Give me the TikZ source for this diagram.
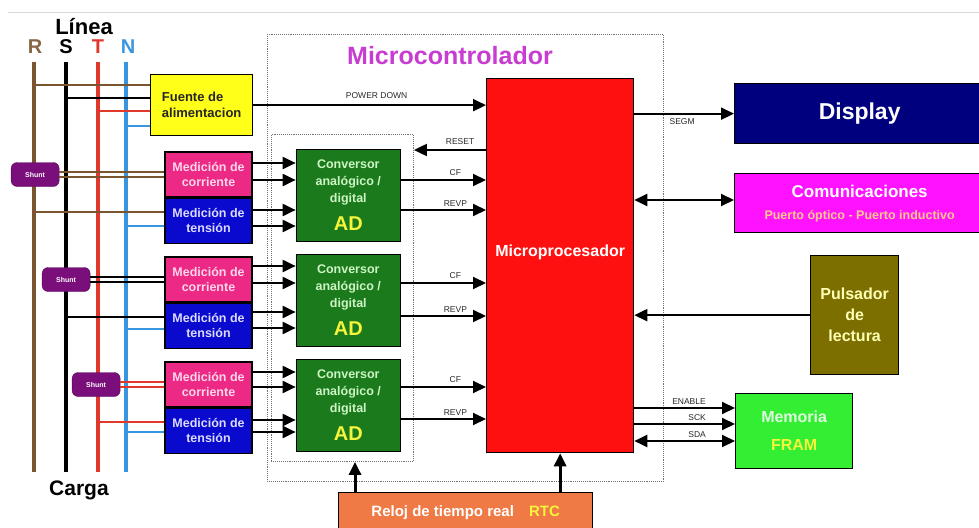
\documentclass[tikz,border=0pt]{standalone}
\usepackage{fontspec}
\setmainfont{Liberation Sans}
\usetikzlibrary{arrows.meta,positioning}

\definecolor{cR}{HTML}{7A5530}
\definecolor{cT}{HTML}{E0392B}
\definecolor{cN}{HTML}{3A95E0}
\definecolor{cFuente}{HTML}{FFFF1A}
\definecolor{cCorr}{HTML}{EC2A86}
\definecolor{cCorrTxt}{HTML}{FFD6EA}
\definecolor{cTens}{HTML}{0A0ACF}
\definecolor{cTensTxt}{HTML}{DCDCFF}
\definecolor{cConv}{HTML}{1B7A1B}
\definecolor{cConvTxt}{HTML}{CDF5C5}
\definecolor{cYel}{HTML}{F5F53C}
\definecolor{cMicro}{HTML}{FF1010}
\definecolor{cDisp}{HTML}{00007F}
\definecolor{cComm}{HTML}{FF12FF}
\definecolor{cCommTxt}{HTML}{FFC98A}
\definecolor{cPuls}{HTML}{7D6E00}
\definecolor{cPulsTxt}{HTML}{FFFFB4}
\definecolor{cMem}{HTML}{33EE33}
\definecolor{cMemTxt}{HTML}{DDFFDD}
\definecolor{cRtc}{HTML}{EF7A45}
\definecolor{cShunt}{HTML}{7A0E7A}
\definecolor{cMctl}{HTML}{C83CD2}

\newcommand{\fsz}[2]{\fontsize{#1}{#2}\selectfont}

\begin{document}
\begin{tikzpicture}[x=1pt,y=-1pt,
    blk/.style={draw=black, line width=1.3pt, inner sep=0pt, align=center, font=\bfseries},
    meas/.style={blk, minimum width=87pt, minimum height=45pt, font=\fsz{12.5}{15}\bfseries},
    adbox/.style={blk, fill=cConv, text=cConvTxt, minimum width=104pt, minimum height=92pt, font=\fsz{12.5}{17}\bfseries},
    shuntbox/.style={draw=cShunt!70!black, fill=cShunt, rounded corners=6pt, text=white, minimum width=48pt, minimum height=24pt, inner sep=0pt, font=\fsz{7}{8}\bfseries},
    dots/.style={draw=black!55, densely dotted, line width=0.9pt, inner sep=0pt},
    ph/.style={line width=3.5pt},
    br/.style={line width=2.2pt},
    sig/.style={line width=2pt, -{Triangle[length=13pt,width=12pt]}},
    bsig/.style={line width=2pt, {Triangle[length=13pt,width=12pt]}-{Triangle[length=13pt,width=12pt]}},
    lbl/.style={font=\fsz{8.5}{9}, text=black!85, inner sep=1pt},
    phl/.style={font=\fsz{20}{20}\bfseries}
  ]
    \useasboundingbox (0,0) rectangle (979,527);
    \draw[black!15, line width=0.8pt] (8,12) -- (979,12);

    % lines R S T N
    \node[font=\fsz{22}{22}\bfseries] (linea) at (84,27) {Línea};
    \node[phl, text=cR!90!white] (lR) at (35,47) {R};
    \node[phl] (lS) at (66,47) {S};
    \node[phl, text=cT] (lT) at (98,47) {T};
    \node[phl, text=cN] (lN) at (128,47) {N};
    \node[font=\fsz{21}{21}\bfseries] (carga) at (79,490) {Carga};

    \coordinate (R0) at (34,62);  \coordinate (R1) at (34,472);
    \coordinate (S0) at (66,62);  \coordinate (S1) at (66,472);
    \coordinate (T0) at (98,62);  \coordinate (T1) at (98,472);
    \coordinate (N0) at (126,62); \coordinate (N1) at (126,472);
    \draw[ph,cR] (R0) -- (R1);
    \draw[ph,black] (S0) -- (S1);
    \draw[ph,cT] (T0) -- (T1);
    \draw[ph,cN] (N0) -- (N1);

    % microcontroller frame
    \node[dots, anchor=north west, minimum width=396pt, minimum height=447pt] (mctl) at (267,34) {};
    \node[font=\fsz{25}{25}\bfseries, text=cMctl] (mctltxt) at (450,56) {Microcontrolador};
    \node[dots, anchor=north west, minimum width=142pt, minimum height=327pt] (adgrp) at (271,134) {};

    % power supply
    \node[blk, fill=cFuente, anchor=north west, minimum width=102pt, minimum height=61pt,
          font=\fsz{13}{16}\bfseries, align=left, text=black!85] (fuente) at (150,74) {Fuente de\\alimentacion};
    \draw[br,cR] (fuente.west |- 0,85) -- (R0 |- 0,85);
    \draw[br,black] (fuente.west |- 0,98) -- (S0 |- 0,98);
    \draw[br,cT] (fuente.west |- 0,111) -- (T0 |- 0,111);
    \draw[br,cN] (fuente.west |- 0,126) -- (N0 |- 0,126);

    % measurement blocks
    \node[meas, fill=cCorr, text=cCorrTxt] (ic1) at (208.5,174.5) {Medición de\\corriente};
    \node[meas, fill=cTens, text=cTensTxt] (vt1) [below=0pt, at=(ic1.south)] {Medición de\\tensión};
    \node[meas, fill=cCorr, text=cCorrTxt] (ic2) at (208.5,279.5) {Medición de\\corriente};
    \node[meas, fill=cTens, text=cTensTxt] (vt2) [below=0pt, at=(ic2.south)] {Medición de\\tensión};
    \node[meas, fill=cCorr, text=cCorrTxt] (ic3) at (208.5,384.5) {Medición de\\corriente};
    \node[meas, fill=cTens, text=cTensTxt] (vt3) [below=0pt, at=(ic3.south)] {Medición de\\tensión};

    \node[shuntbox] (sh1) [left=105pt, at=(ic1.west)] {Shunt};
    \node[shuntbox] (sh2) [left=74pt, at=(ic2.west)] {Shunt};
    \node[shuntbox] (sh3) [left=44pt, at=(ic3.west)] {Shunt};

    \draw[line width=2pt,cR] ([yshift=2.2pt]sh1.east) -- ([yshift=2.2pt]ic1.west);
    \draw[line width=2pt,cR] ([yshift=-2.2pt]sh1.east) -- ([yshift=-2.2pt]ic1.west);
    \draw[br,cR] (vt1.west |- 0,212) -- (R0 |- 0,212);
    \draw[br,cN] (vt1.west |- 0,226) -- (N0 |- 0,226);
    \draw[line width=2pt,black] ([yshift=2.2pt]sh2.east) -- ([yshift=2.2pt]ic2.west);
    \draw[line width=2pt,black] ([yshift=-2.2pt]sh2.east) -- ([yshift=-2.2pt]ic2.west);
    \draw[br,black] (vt2.west |- 0,317) -- (S0 |- 0,317);
    \draw[br,cN] (vt2.west |- 0,329) -- (N0 |- 0,329);
    \draw[line width=2pt,cT] ([yshift=2.2pt]sh3.east) -- ([yshift=2.2pt]ic3.west);
    \draw[line width=2pt,cT] ([yshift=-2.2pt]sh3.east) -- ([yshift=-2.2pt]ic3.west);
    \draw[br,cT] (vt3.west |- 0,422) -- (T0 |- 0,422);
    \draw[br,cN] (vt3.west |- 0,432) -- (N0 |- 0,432);

    % AD converters
    \node[adbox] (ad1) [right=43pt, at=(ic1.south east), yshift=2.5pt] {Conversor\\analógico /\\digital\\[11pt]{\fsz{20}{20}\color{cYel}AD}};
    \node[adbox] (ad2) [right=43pt, at=(ic2.south east), yshift=2.5pt] {Conversor\\analógico /\\digital\\[11pt]{\fsz{20}{20}\color{cYel}AD}};
    \node[adbox] (ad3) [right=43pt, at=(ic3.south east), yshift=2.5pt] {Conversor\\analógico /\\digital\\[11pt]{\fsz{20}{20}\color{cYel}AD}};

    \draw[sig] (ic1.east |- 0,163) -- (ad1.west |- 0,163);
    \draw[sig] (ic1.east |- 0,180) -- (ad1.west |- 0,180);
    \draw[sig] (vt1.east |- 0,210) -- (ad1.west |- 0,210);
    \draw[sig] (vt1.east |- 0,226) -- (ad1.west |- 0,226);
    \draw[sig] (ic2.east |- 0,266) -- (ad2.west |- 0,266);
    \draw[sig] (ic2.east |- 0,283) -- (ad2.west |- 0,283);
    \draw[sig] (vt2.east |- 0,312) -- (ad2.west |- 0,312);
    \draw[sig] (vt2.east |- 0,328) -- (ad2.west |- 0,328);
    \draw[sig] (ic3.east |- 0,372) -- (ad3.west |- 0,372);
    \draw[sig] (ic3.east |- 0,387) -- (ad3.west |- 0,387);
    \draw[sig] (vt3.east |- 0,420) -- (ad3.west |- 0,420);
    \draw[sig] (vt3.east |- 0,432) -- (ad3.west |- 0,432);

    % microprocessor
    \node[blk, fill=cMicro, anchor=north west, minimum width=147pt, minimum height=374pt,
          label={[font=\fsz{16}{16}\bfseries, text=white, yshift=13pt]center:Microprocesador}] (micro) at (486,78) {};

    \draw[sig] (fuente.east) -- (micro.west |- fuente.east) node[lbl, pos=0.53, above=5pt] {POWER DOWN};
    \draw[sig] (micro.west |- 0,150) -- (adgrp.east |- 0,150) node[lbl, pos=0.36, above=3pt] {RESET};
    \draw[sig] (ad1.east |- 0,180) -- (micro.west |- 0,180) node[lbl, pos=0.64, above=2pt] {CF};
    \draw[sig] (ad1.east |- 0,210) -- (micro.west |- 0,210) node[lbl, pos=0.64, above=2pt] {REVP};
    \draw[sig] (ad2.east |- 0,283) -- (micro.west |- 0,283) node[lbl, pos=0.64, above=2pt] {CF};
    \draw[sig] (ad2.east |- 0,316) -- (micro.west |- 0,316) node[lbl, pos=0.64, above=2pt] {REVP};
    \draw[sig] (ad3.east |- 0,387) -- (micro.west |- 0,387) node[lbl, pos=0.64, above=2pt] {CF};
    \draw[sig] (ad3.east |- 0,419) -- (micro.west |- 0,419) node[lbl, pos=0.64, above=2pt] {REVP};

    % peripherals
    \node[blk, fill=cDisp, text=white, anchor=north west, minimum width=250pt, minimum height=60pt,
          font=\fsz{23}{23}\bfseries] (disp) at (734,83) {Display};
    \node[blk, fill=cComm, text=white, anchor=north west, minimum width=250pt, minimum height=59pt,
          font=\fsz{17}{17}\bfseries] (comm) at (734,173) {Comunicaciones\\[5pt]{\fsz{12.5}{12.5}\color{cCommTxt}Puerto óptico - Puerto inductivo}};
    \node[blk, fill=cPuls, text=cPulsTxt, anchor=north west, minimum width=88pt, minimum height=119pt,
          font=\fsz{16}{21}\bfseries] (puls) at (810,255) {Pulsador\\de\\lectura};
    \node[blk, fill=cMem, text=cMemTxt, anchor=north west, minimum width=117pt, minimum height=75pt,
          font=\fsz{16}{28}\bfseries] (mem) at (735,393) {Memoria\\{\color{cYel}FRAM}};
    \node[blk, fill=cRtc, text=white, anchor=north west, minimum width=254pt, minimum height=40pt,
          font=\fsz{15}{15}\bfseries] (rtc) at (338,492) {Reloj de tiempo real\quad{\color{cYel}RTC}};

    \draw[sig] (micro.east |- disp.west) -- (disp.west) node[lbl, pos=0.48, below=3pt] {SEGM};
    \draw[bsig] (micro.east |- 0,200) -- (comm.west |- 0,200);
    \draw[sig] (puls.west) -- (micro.east |- puls.west);
    \draw[sig] (micro.east |- 0,408) -- (mem.west |- 0,408);
    \draw[sig] (micro.east |- 0,424) -- (mem.west |- 0,424);
    \draw[bsig] (micro.east |- 0,441) -- (mem.west |- 0,441);
    \node[lbl, anchor=south east] (en) at (707,406) {ENABLE};
    \node[lbl, anchor=south east] (sck) at (707,422) {SCK};
    \node[lbl, anchor=south east] (sda) at (707,439) {SDA};

    \draw[sig, line width=3pt] (rtc.north -| 355,0) -- (adgrp.south -| 355,0);
    \draw[sig, line width=3pt] (rtc.north -| micro.south) -- (micro.south);
\end{tikzpicture}
\end{document}
